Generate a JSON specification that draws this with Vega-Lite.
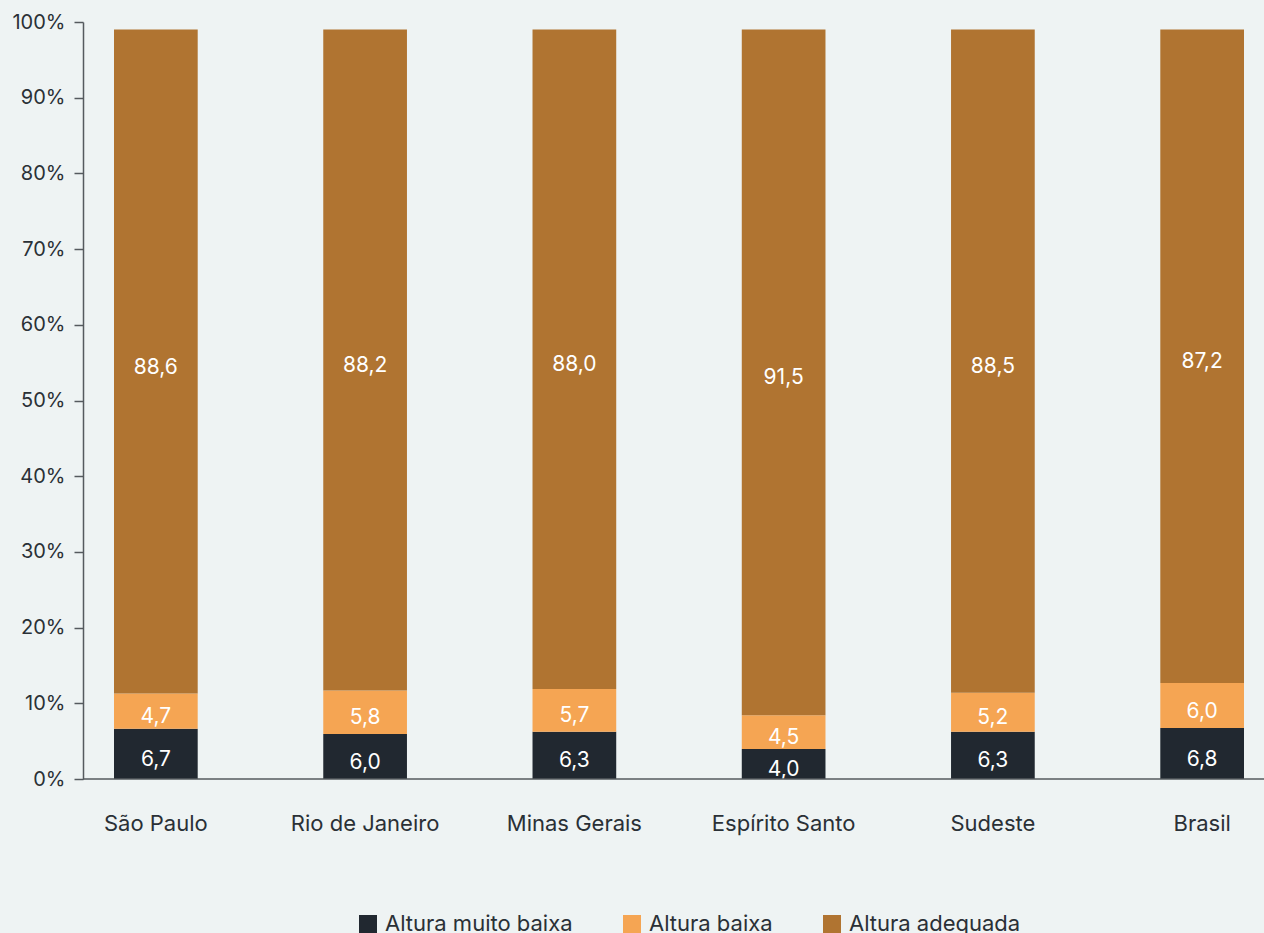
{
  "$schema": "https://vega.github.io/schema/vega-lite/v6.json",
  "width": 1181,
  "height": 757,
  "autosize": {"type": "none"},
  "padding": {"left": 83, "top": 22, "right": 0, "bottom": 154},
  "background": "#eef3f3",
  "config": {
    "view": {"stroke": null},
    "font": "Inter",
    "locale": {"number": {"decimal": ",", "thousands": ".", "grouping": [3], "currency": ["R$", ""]}}
  },
  "data": {
    "values": [
      {"regiao": "São Paulo", "categoria": "Altura muito baixa", "ordem": 1, "valor": 6.7},
      {"regiao": "São Paulo", "categoria": "Altura baixa", "ordem": 2, "valor": 4.7},
      {"regiao": "São Paulo", "categoria": "Altura adequada", "ordem": 3, "valor": 88.6},
      {"regiao": "Rio de Janeiro", "categoria": "Altura muito baixa", "ordem": 1, "valor": 6.0},
      {"regiao": "Rio de Janeiro", "categoria": "Altura baixa", "ordem": 2, "valor": 5.8},
      {"regiao": "Rio de Janeiro", "categoria": "Altura adequada", "ordem": 3, "valor": 88.2},
      {"regiao": "Minas Gerais", "categoria": "Altura muito baixa", "ordem": 1, "valor": 6.3},
      {"regiao": "Minas Gerais", "categoria": "Altura baixa", "ordem": 2, "valor": 5.7},
      {"regiao": "Minas Gerais", "categoria": "Altura adequada", "ordem": 3, "valor": 88.0},
      {"regiao": "Espírito Santo", "categoria": "Altura muito baixa", "ordem": 1, "valor": 4.0},
      {"regiao": "Espírito Santo", "categoria": "Altura baixa", "ordem": 2, "valor": 4.5},
      {"regiao": "Espírito Santo", "categoria": "Altura adequada", "ordem": 3, "valor": 91.5},
      {"regiao": "Sudeste", "categoria": "Altura muito baixa", "ordem": 1, "valor": 6.3},
      {"regiao": "Sudeste", "categoria": "Altura baixa", "ordem": 2, "valor": 5.2},
      {"regiao": "Sudeste", "categoria": "Altura adequada", "ordem": 3, "valor": 88.5},
      {"regiao": "Brasil", "categoria": "Altura muito baixa", "ordem": 1, "valor": 6.8},
      {"regiao": "Brasil", "categoria": "Altura baixa", "ordem": 2, "valor": 6.0},
      {"regiao": "Brasil", "categoria": "Altura adequada", "ordem": 3, "valor": 87.2}
    ]
  },
  "layer": [
    {
      "transform": [
        {"stack": "valor", "groupby": ["regiao"], "sort": [{"field": "ordem", "order": "ascending"}], "as": ["v0", "v1"]}
      ],
      "mark": {"type": "bar"},
      "encoding": {
        "x": {
          "field": "regiao", "type": "nominal",
          "sort": ["São Paulo", "Rio de Janeiro", "Minas Gerais", "Espírito Santo", "Sudeste", "Brasil"],
          "scale": {"range": [31, 1161], "paddingInner": 0.6, "paddingOuter": 0},
          "axis": {"title": null, "domain": false, "ticks": false, "labelAngle": 0, "labelFontSize": 22, "labelColor": "#2a3036", "labelPadding": 34}
        },
        "y": {"field": "v0", "type": "quantitative", "scale": {"domain": [0, 101]}, "axis": null},
        "y2": {"field": "v1"},
        "color": {
          "field": "categoria", "type": "nominal",
          "scale": {"domain": ["Altura muito baixa", "Altura baixa", "Altura adequada"], "range": ["#212830", "#f5a553", "#b07431"]},
          "legend": {
            "orient": "none", "legendX": 274, "legendY": 891, "direction": "horizontal",
            "title": null, "symbolType": "square", "symbolSize": 324, "symbolStrokeWidth": 0,
            "labelFontSize": 22, "labelColor": "#2a3036", "labelOffset": 6, "columnPadding": 48, "labelLimit": 400, "padding": 0
          }
        }
      }
    },
    {
      "transform": [
        {"stack": "valor", "groupby": ["regiao"], "sort": [{"field": "ordem", "order": "ascending"}], "as": ["v0", "v1"]},
        {"calculate": "(datum.v0 + datum.v1) / 2", "as": "vmid"}
      ],
      "mark": {"type": "text", "color": "#ffffff", "fontSize": 21, "dy": 6},
      "encoding": {
        "x": {
          "field": "regiao", "type": "nominal",
          "sort": ["São Paulo", "Rio de Janeiro", "Minas Gerais", "Espírito Santo", "Sudeste", "Brasil"],
          "scale": {"range": [31, 1161], "paddingInner": 0.6, "paddingOuter": 0}
        },
        "y": {"field": "vmid", "type": "quantitative", "scale": {"domain": [0, 101]}, "axis": null},
        "text": {"field": "valor", "type": "quantitative", "format": ".1f"}
      }
    },
    {
      "data": {"values": [{"z": 0}]},
      "mark": {"type": "rule", "color": "#555a5e", "strokeWidth": 1.5},
      "encoding": {
        "y": {
          "datum": 0, "type": "quantitative", "scale": {"domain": [0, 100]},
          "axis": {
            "orient": "left", "title": null, "values": [0, 10, 20, 30, 40, 50, 60, 70, 80, 90, 100],
            "labelExpr": "datum.value + '%'", "grid": false,
            "labelFontSize": 20, "labelColor": "#2a3036", "labelPadding": 9,
            "tickSize": 9, "tickColor": "#555a5e", "domainColor": "#555a5e", "domainWidth": 1.5, "tickWidth": 1.5
          }
        }
      }
    }
  ],
  "resolve": {"scale": {"y": "independent"}}
}
